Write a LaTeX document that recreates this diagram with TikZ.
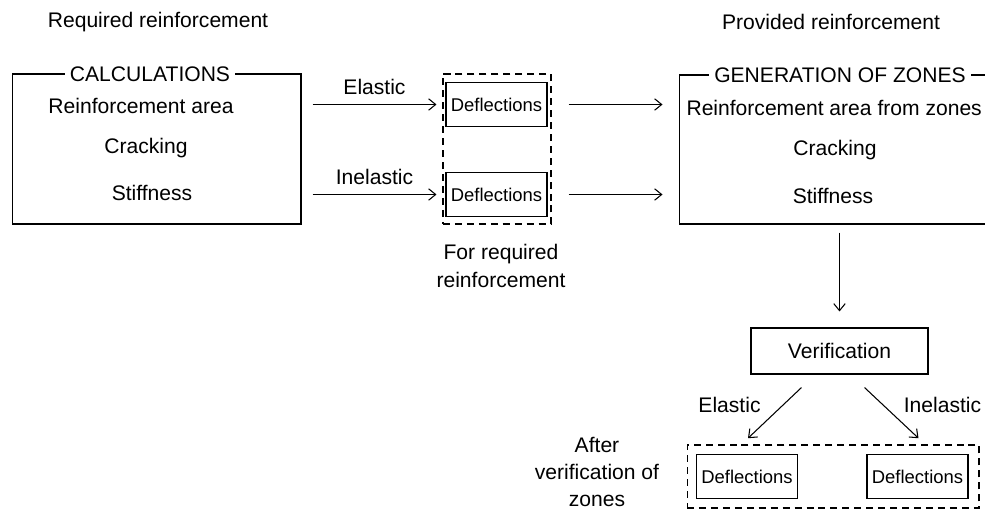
\documentclass[tikz,border=0pt]{standalone}
\usepackage{fontspec}
\setmainfont{Liberation Sans}
\usetikzlibrary{arrows.meta, calc}

\begin{document}
\begin{tikzpicture}[x=0.02cm, y=-0.02cm, line width=0.6pt,
        >={Straight Barb[length=4pt, width=6.5pt]},
        every node/.style={font=\fontsize{12}{15.5}\selectfont},
        frame/.style={draw, inner sep=0pt},
        dashframe/.style={draw, dash pattern=on 4pt off 2.8pt, inner sep=0pt},
        defl/.style={draw, inner sep=0pt, minimum width=2.02cm, minimum height=0.87cm, font=\fontsize{10.5}{12}\selectfont},
        title/.style={fill=white, inner xsep=3pt, inner ysep=1pt}]
        \useasboundingbox (0,0) rectangle (985,510);
        \clip (0,0) rectangle (985,510);

        % Headings
        \node (req) at (158,22) {Required reinforcement};
        \node (prov) at (831,22) {Provided reinforcement};

        % Calculations block
        \node[frame, minimum width=5.78cm, minimum height=3cm] (calcbox) at (156.5,149) {};
        \node[title] (calct) at (150,74) {CALCULATIONS};
        \node (carea) at (141,106) {Reinforcement area};
        \node (ccrack) at (146,148) {Cracking};
        \node (cstiff) at (152,193) {Stiffness};

        % Deflections for required reinforcement
        \node[dashframe, minimum width=2.16cm, minimum height=3cm] (reqgrp) at (497,149) {};
        \node[defl] (d1) at (496.5,104.5) {Deflections};
        \node[defl] (d2) at (496.5,194.5) {Deflections};
        \node[align=center] (reqlbl) at (501,266) {For required\\reinforcement};

        % Generation of zones block
        \node[frame, minimum width=6.42cm, minimum height=2.98cm] (genbox) at (839.5,149.5) {};
        \node[title] (gent) at (840,75) {GENERATION OF ZONES};
        \node[anchor=west, inner sep=0pt] (garea) at (686,108) {Reinforcement area from zones};
        \node (gcrack) at (835,150) {Cracking};
        \node (gstiff) at (833,196) {Stiffness};

        % Data flow
        \draw[->] ($(calcbox.east |- d1)+(11,0)$) -- node[above=2pt] {Elastic} ($(d1.west)+(-9,0)$);
        \draw[->] ($(calcbox.east |- d2)+(11,0)$) -- node[above=2pt] {Inelastic} ($(d2.west)+(-9,0)$);
        \draw[->] ($(d1.east)+(21,0)$) -- ($(genbox.west |- d1)+(-16,0)$);
        \draw[->] ($(d2.east)+(21,0)$) -- ($(genbox.west |- d2)+(-16,0)$);

        % Verification
        \node[frame, minimum width=3.54cm, minimum height=0.92cm] (verif) at (839.5,351) {Verification};
        \draw[->] ($(genbox.south -| verif)+(0,8)$) -- ($(verif.north)+(0,-16)$);

        % Deflections after verification
        \node[dashframe, minimum width=5.84cm, minimum height=1.26cm] (zonegrp) at (833,476.5) {};
        \node[defl] (d3) at (747,476.5) {Deflections};
        \node[defl] (d4) at (917.5,476.5) {Deflections};
        \node[align=center, font=\fontsize{12}{15.5}\selectfont] (afterlbl) at (597,472) {After\\verification of\\zones};

        \draw[->] ($(verif.south)+(-38,13)$) -- node[pos=0.35, left=9pt] {Elastic} ($(d3.north)+(1,-16)$);
        \draw[->] ($(verif.south)+(25,13)$) -- node[pos=0.35, right=8pt] {Inelastic} ($(d4.north)+(1,-16)$);

\end{tikzpicture}
\end{document}
